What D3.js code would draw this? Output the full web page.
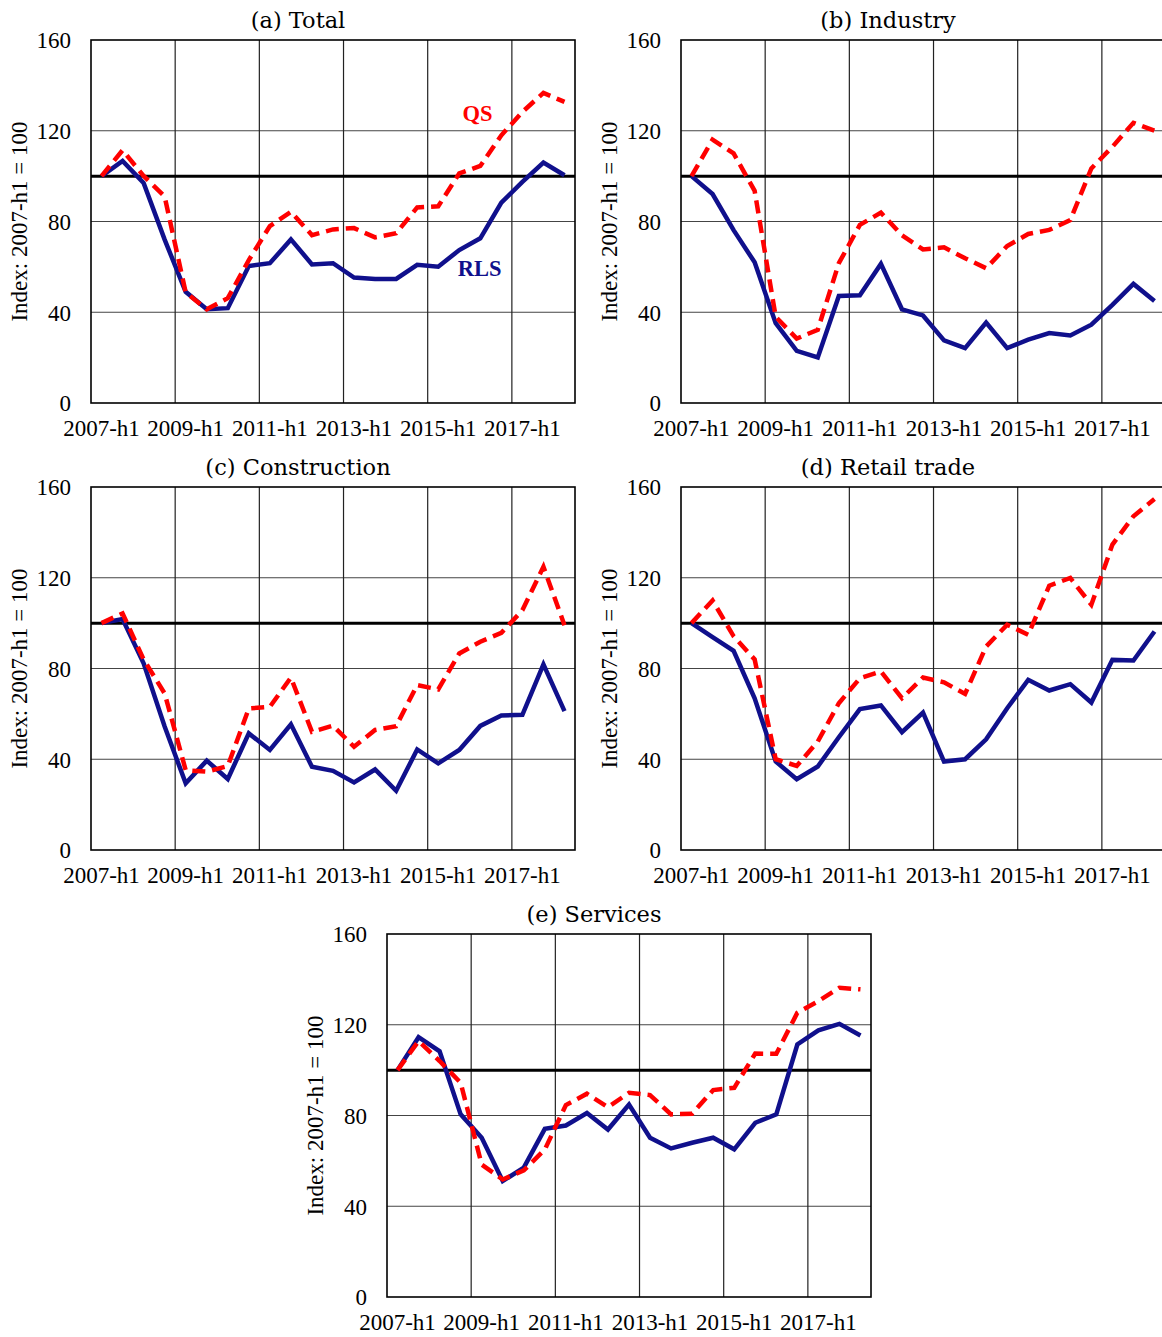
<!DOCTYPE html>
<html><head><meta charset="utf-8">
<script src="https://cdn.jsdelivr.net/npm/d3@7"></script>
<style>html,body{margin:0;padding:0;background:#fff;}svg{display:block;}</style>
</head><body>
<svg id="chart" width="1162" height="1337"></svg>
<script>
const categories = ["2007-h1","2007-h2","2008-h1","2008-h2","2009-h1","2009-h2","2010-h1","2010-h2",
  "2011-h1","2011-h2","2012-h1","2012-h2","2013-h1","2013-h2","2014-h1","2014-h2",
  "2015-h1","2015-h2","2016-h1","2016-h2","2017-h1","2017-h2","2018-h1"];
const tickLabels = ["2007-h1","2009-h1","2011-h1","2013-h1","2015-h1","2017-h1"];
const yTicks = [0,40,80,120,160];
const panelTitles = ["(a) Total","(b) Industry","(c) Construction","(d) Retail trade","(e) Services"];
const seriesNames = ["RLS","QS"];

const rlsTotal = [100,106.7,97,72,49,41.3,41.8,60.4,61.6,72.1,61.1,61.6,55.3,54.7,54.7,60.9,60.1,67.4,72.6,88.3,97.5,106,100.4];
const qsTotal  = [100,111.4,100.1,91,48.7,41.3,46.2,63,78,84.3,74,76.5,77.1,73,74.8,86.2,86.7,101.2,104.5,118,128.3,136.7,132.7];
const rlsIndustry = [100,92.1,76.2,62,35.2,23,20.1,47.2,47.5,61.3,41.3,38.6,27.6,24.2,35.5,24.2,27.9,30.8,29.8,34.5,43.3,52.5,45];
const qsIndustry  = [100,116.1,110,93.5,38,28.4,32.3,61.6,78.5,83.9,73.9,67.7,68.6,63.8,59.4,69.2,74.5,76.3,80.6,103.4,112.9,123.5,120];
const rlsConstruction = [100,101.8,82.3,54.4,29.4,39.4,31.3,51.4,44.1,55.4,36.7,34.9,29.8,35.5,26.1,44.3,38.2,44.1,54.7,59.3,59.6,81.8,61.2];
const qsConstruction  = [100,104.3,84,69,35.2,34.5,37,62.4,63.1,76,52.1,54.8,45.5,52.9,54.6,72.7,70.8,86.6,91.8,95.7,105.7,124.8,99.1];
const rlsRetail = [100,93.8,87.8,66.9,39,31.2,36.8,49.7,62.1,63.7,51.9,60.6,39,40,48.8,62.5,75,70.3,73.1,65,83.8,83.5,96.3];
const qsRetail  = [100,110,94.2,84,40,37.1,47.8,64.7,75.7,78.7,66.9,76,73.9,68.8,89.7,99.3,94.9,116.5,119.9,108.1,134.6,147.1,154.7];
const rlsServices = [100,114.5,108.3,80.5,70.2,51.1,57,74.1,75.6,81.1,73.8,84.8,70.2,65.5,68,70.2,65.1,76.8,80.5,111.3,117.5,120.4,115.3];
const qsServices  = [100,112.8,104,94.4,58.4,51.8,55.8,65,84.6,89.6,83.7,90,89,80.5,80.8,91.2,92.2,107.3,107.2,125.3,130.4,136.3,135.6];

// annotation positions in data units (category index, value) for panel (a)
const labelPos = {QS:[17.87,124.3], RLS:[17.97,56.1]};

const panels = [
  {title:panelTitles[0], rls:rlsTotal, qs:qsTotal, left:91, top:40, labels:true},
  {title:panelTitles[1], rls:rlsIndustry, qs:qsIndustry, left:681, top:40},
  {title:panelTitles[2], rls:rlsConstruction, qs:qsConstruction, left:91, top:487},
  {title:panelTitles[3], rls:rlsRetail, qs:qsRetail, left:681, top:487},
  {title:panelTitles[4], rls:rlsServices, qs:qsServices, left:387, top:934}
];
const W = 484, H = 363;
const blue = "#10108c", red = "#ff0000";
const serif = "'Liberation Serif','Times New Roman',serif";
const svg = d3.select("#chart");
svg.append("rect").attr("width",1162).attr("height",1337).attr("fill","#fff");

panels.forEach(p => {
  const x = d3.scaleBand().domain(categories).range([p.left, p.left+W]).padding(0);
  const bw = x.bandwidth();
  const cx = c => x(c) + bw/2;
  const xi = i => x(categories[0]) + bw*(i+0.5);
  const y = d3.scaleLinear().domain([0,160]).range([p.top+H, p.top]);
  const g = svg.append("g");

  // horizontal gridlines
  g.selectAll(".hg").data(yTicks.filter(t => t>0 && t<160)).enter().append("line")
    .attr("x1",p.left).attr("x2",p.left+W).attr("y1",d=>y(d)).attr("y2",d=>y(d))
    .attr("stroke","#444").attr("stroke-width",1.2);
  // vertical gridlines at category boundaries every 4
  const vcats = categories.filter((c,i)=> i>0 && i%4===0);
  g.selectAll(".vg").data(vcats).enter().append("line")
    .attr("x1",d=>x(d)).attr("x2",d=>x(d)).attr("y1",p.top).attr("y2",p.top+H)
    .attr("stroke","#222").attr("stroke-width",1.2);
  // frame
  g.append("rect").attr("x",p.left).attr("y",p.top).attr("width",W).attr("height",H)
    .attr("fill","none").attr("stroke","#000").attr("stroke-width",1.6);
  // reference line at 100
  g.append("line").attr("x1",p.left).attr("x2",p.left+W).attr("y1",y(100)).attr("y2",y(100))
    .attr("stroke","#000").attr("stroke-width",3);

  // y axis
  const ya = d3.axisLeft(y).tickValues(yTicks).tickSize(0).tickPadding(20);
  const yg = g.append("g").attr("transform",`translate(${p.left},0)`).call(ya);
  yg.select(".domain").remove();
  yg.selectAll("text").attr("font-family",serif).attr("font-size",23).attr("fill","#000").attr("dy","0.34em");

  // x axis
  const xa = d3.axisBottom(x).tickValues(tickLabels).tickSize(0).tickPadding(17);
  const xg = g.append("g").attr("transform",`translate(0,${p.top+H})`).call(xa);
  xg.select(".domain").remove();
  xg.selectAll("text").attr("font-family",serif).attr("font-size",23).attr("fill","#000").attr("dy","0.71em");

  // y title
  g.append("text").attr("transform",`translate(${p.left-64},${p.top+H/2}) rotate(-90)`)
    .attr("text-anchor","middle").attr("font-family",serif).attr("font-size",23).attr("fill","#000")
    .text("Index: 2007-h1 = 100");
  // panel title
  g.append("text").attr("x",p.left+207).attr("y",p.top-12).attr("text-anchor","middle")
    .attr("font-family","'DejaVu Serif',serif").attr("font-size",22.5).attr("fill","#000").text(p.title);

  const line = d3.line().x((d,i)=>cx(categories[i])).y(d=>y(d));
  g.append("path").datum(p.rls).attr("d",line).attr("fill","none")
    .attr("stroke",blue).attr("stroke-width",4.5).attr("stroke-linejoin","miter");
  g.append("path").datum(p.qs).attr("d",line).attr("fill","none")
    .attr("stroke",red).attr("stroke-width",4.5).attr("stroke-dasharray","13,7");

  if (p.labels) {
    g.append("text").attr("x",xi(labelPos.QS[0])).attr("y",y(labelPos.QS[1])).attr("text-anchor","middle")
      .attr("font-family",serif).attr("font-weight","bold").attr("font-size",22.5).attr("fill",red).text(seriesNames[1]);
    g.append("text").attr("x",xi(labelPos.RLS[0])).attr("y",y(labelPos.RLS[1])).attr("text-anchor","middle")
      .attr("font-family",serif).attr("font-weight","bold").attr("font-size",22.5).attr("fill",blue).text(seriesNames[0]);
  }
});
</script>
</body></html>
